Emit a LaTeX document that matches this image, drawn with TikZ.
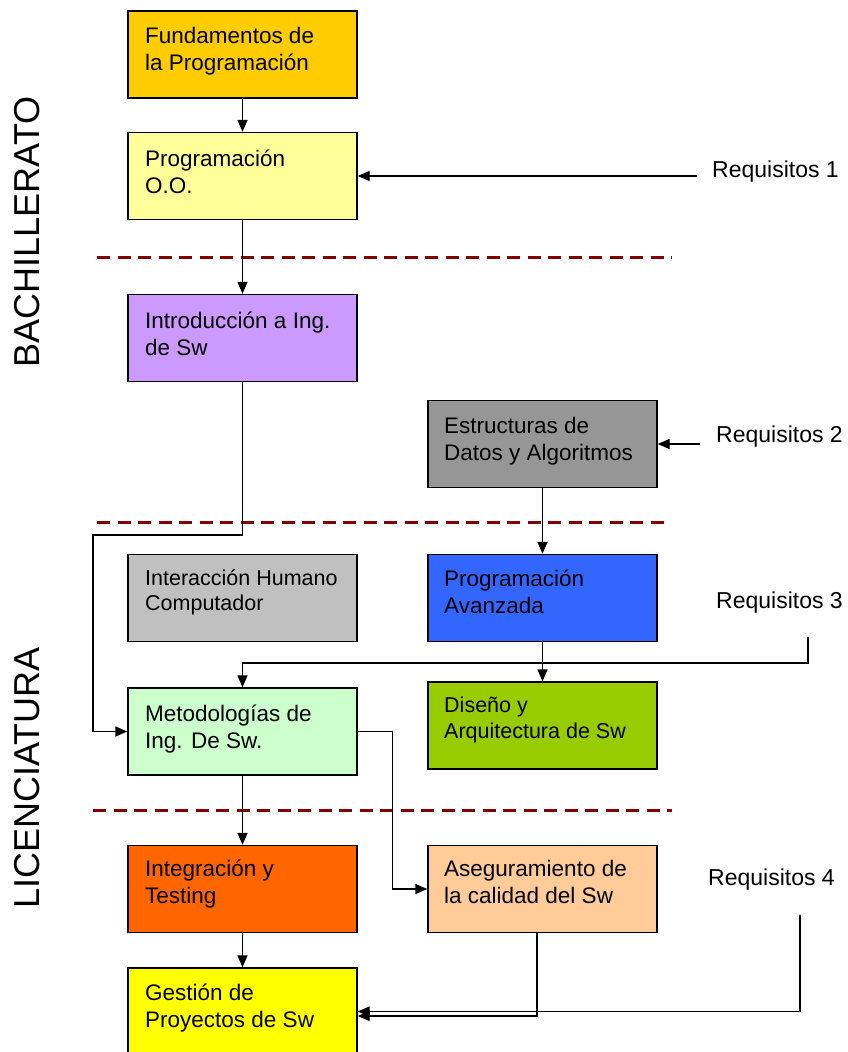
\documentclass[tikz,border=0pt]{standalone}
\usepackage{fontspec}
\setmainfont{Liberation Sans}
\usetikzlibrary{arrows.meta}
\definecolor{cFund}{HTML}{FFCC00}
\definecolor{cProo}{HTML}{FFFF99}
\definecolor{cIntro}{HTML}{CC99FF}
\definecolor{cEst}{HTML}{969696}
\definecolor{cIhc}{HTML}{C0C0C0}
\definecolor{cPa}{HTML}{3366FF}
\definecolor{cMet}{HTML}{CCFFCC}
\definecolor{cDis}{HTML}{99CC00}
\definecolor{cInt}{HTML}{FF6600}
\definecolor{cAse}{HTML}{FFCC99}
\definecolor{cGes}{HTML}{FFFF00}
\definecolor{cSep}{HTML}{800000}
\tikzset{
  box/.style={draw=black, line width=1.4pt, rectangle, inner sep=0pt,
    minimum width=229pt, minimum height=87pt},
  txt/.style={inner sep=0pt, anchor=base west, font=\fontsize{22.5}{27}\selectfont},
  req/.style={inner sep=0pt, anchor=base west, font=\fontsize{23}{27}\selectfont},
  side/.style={inner sep=0pt, rotate=90, font=\fontsize{36}{42}\selectfont},
  arr/.style={line width=1.4pt, -{Triangle[length=12pt,width=10pt]}},
  sep/.style={draw=cSep, line width=3pt, dash pattern=on 13pt off 7.5pt}
}
\begin{document}
\begin{tikzpicture}[x=1pt,y=-1pt]
\clip (0,0) rectangle (848,1052);
\fill[white] (0,0) rectangle (848,1052);

% separators
\draw[sep] (97,257) -- (672,257);
\draw[sep] (97,522) -- (668,522);
\draw[sep] (93,810) -- (672,810);

% side labels
\node[side] (bach) at (27,232) {BACHILLERATO};
\node[side] (lic) at (27,778) {LICENCIATURA};

% boxes
\node[box, fill=cFund]  (fund)  at (242.5,54.5)  {};
\node[box, fill=cProo]  (proo)  at (242.5,176)   {};
\node[box, fill=cIntro] (intro) at (242.5,338)   {};
\node[box, fill=cEst]   (est)   at (542.5,444)   {};
\node[box, fill=cIhc]   (ihc)   at (242.5,598)   {};
\node[box, fill=cPa]    (pa)    at (542.5,598)   {};
\node[box, fill=cMet]   (met)   at (242.5,731.5) {};
\node[box, fill=cDis]   (dis)   at (542.5,725.5) {};
\node[box, fill=cInt]   (int)   at (242.5,889)   {};
\node[box, fill=cAse]   (ase)   at (542.5,889)   {};
\node[box, fill=cGes]   (ges)   at (242.5,1011.5){};

% box texts
\node[txt] (tfund)  at (145,43)  {\vtop{\hbox{Fundamentos de}\hbox{la Programación}}};
\node[txt] (tproo)  at (145,166) {\vtop{\hbox{Programación}\hbox{O.O.}}};
\node[txt] (tintro) at (145,328) {\vtop{\hbox{Introducción a Ing.}\hbox{de Sw}}};
\node[txt] (test)   at (444,433) {\vtop{\hbox{Estructuras de}\hbox{Datos y Algoritmos}}};
\node[txt, font=\fontsize{21.5}{25}\selectfont] (tihc) at (145,585) {\vtop{\hbox{Interacción Humano}\hbox{Computador}}};
\node[txt] (tpa)    at (444,586) {\vtop{\hbox{Programación}\hbox{Avanzada}}};
\node[txt] (tmet)   at (145,721) {\vtop{\hbox{Metodologías de}\hbox{Ing. De Sw.}}};
\node[txt, font=\fontsize{21.5}{26}\selectfont] (tdis) at (444,712) {\vtop{\hbox{Diseño y}\hbox{Arquitectura de Sw}}};
\node[txt] (tint)   at (145,876) {\vtop{\hbox{Integración y}\hbox{Testing}}};
\node[txt] (tase)   at (444,876) {\vtop{\hbox{Aseguramiento de}\hbox{la calidad del Sw}}};
\node[txt] (tges)   at (145,1000){\vtop{\hbox{Gestión de}\hbox{Proyectos de Sw}}};

% requisitos
\node[req] (req1) at (712,177) {Requisitos 1};
\node[req] (req2) at (716,442) {Requisitos 2};
\node[req] (req3) at (716,608) {Requisitos 3};
\node[req] (req4) at (708,885) {Requisitos 4};

\coordinate (r1) at (697,176);
\coordinate (r2) at (700,444);
\coordinate (r3) at (808,637);
\coordinate (r4) at (800,915);
\coordinate (c1) at (93,535);

% connectors
\draw[arr] (fund) -- (proo);
\draw[arr] (proo) -- (intro);
\draw[arr] (r1) -- (proo.east);
\draw[arr] (r2) -- (est.east);
\draw[arr] (intro.south) |- (c1) |- (met.west);
\draw[arr] (est) -- (pa);
\draw[arr] (pa) -- (dis);
\draw[arr] (r3) -- ++(0,26) -| (met.north);
\draw[arr] (met.east) -- ++(35,0) |- (ase.west);
\draw[arr] (met) -- (int);
\draw[arr] (int) -- (ges);
\draw[arr] ([xshift=-5.5pt]ase.south) |- ([yshift=-4.5pt]ges.east);
\draw[arr] (r4) |- (ges.east);
\end{tikzpicture}
\end{document}
